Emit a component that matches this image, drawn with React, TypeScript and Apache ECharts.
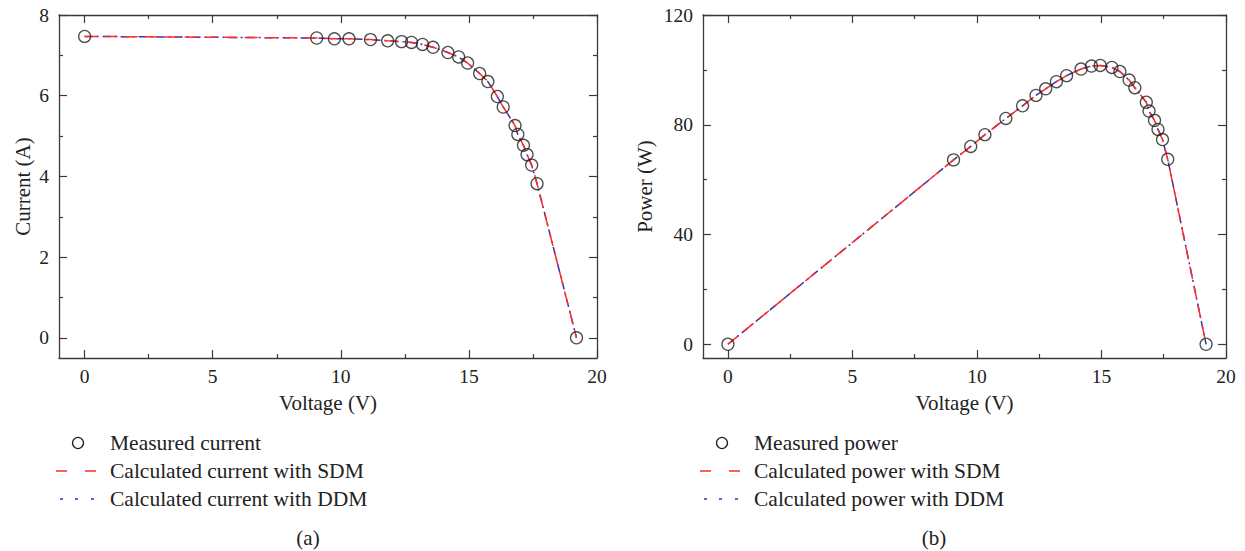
import React, { useEffect, useRef } from "react";
import * as echarts from "echarts";

// ---- Data ----
const voltage = [0, 9.06, 9.75, 10.32, 11.16, 11.83, 12.37, 12.76, 13.19, 13.6, 14.18, 14.6, 14.95, 15.42, 15.74, 16.11, 16.34, 16.8, 16.91, 17.13, 17.27, 17.45, 17.66, 19.2];
const measuredCurrent = [7.47, 7.43, 7.41, 7.41, 7.39, 7.36, 7.34, 7.32, 7.27, 7.2, 7.07, 6.96, 6.81, 6.55, 6.35, 5.98, 5.72, 5.26, 5.04, 4.77, 4.54, 4.28, 3.82, 0];
const measuredPower = [0, 67.2, 72.1, 76.4, 82.3, 86.9, 90.7, 93.1, 95.7, 97.9, 100.3, 101.4, 101.6, 100.9, 99.4, 96.3, 93.5, 88.2, 85.0, 81.6, 78.3, 74.6, 67.4, 0];
// calculated curves coincide with the measurements at the resolution of the picture
const sdmCurrent = [7.47, 7.43, 7.41, 7.41, 7.39, 7.36, 7.34, 7.32, 7.27, 7.2, 7.07, 6.96, 6.81, 6.55, 6.35, 5.98, 5.72, 5.26, 5.04, 4.77, 4.54, 4.28, 3.82, 0];
const ddmCurrent = [7.47, 7.43, 7.41, 7.41, 7.39, 7.36, 7.34, 7.32, 7.27, 7.2, 7.07, 6.96, 6.81, 6.55, 6.35, 5.98, 5.72, 5.26, 5.04, 4.77, 4.54, 4.28, 3.82, 0];
const sdmPower = [0, 67.2, 72.1, 76.4, 82.3, 86.9, 90.7, 93.1, 95.7, 97.9, 100.3, 101.4, 101.6, 100.9, 99.4, 96.3, 93.5, 88.2, 85.0, 81.6, 78.3, 74.6, 67.4, 0];
const ddmPower = [0, 67.2, 72.1, 76.4, 82.3, 86.9, 90.7, 93.1, 95.7, 97.9, 100.3, 101.4, 101.6, 100.9, 99.4, 96.3, 93.5, 88.2, 85.0, 81.6, 78.3, 74.6, 67.4, 0];

const xMajorTicks = [0, 5, 10, 15, 20];
const xMinorTicks = [2.5, 7.5, 12.5, 17.5];
const currentMajorTicks = [0, 2, 4, 6, 8];
const currentMinorTicks = [1, 3, 5, 7];
const powerMajorTicks = [0, 40, 80, 120];
const powerMinorTicks = [20, 60, 100];

const legendA = ["Measured current", "Calculated current with SDM", "Calculated current with DDM"];
const legendB = ["Measured power", "Calculated power with SDM", "Calculated power with DDM"];
const panelLabels = ["(a)", "(b)"];

const FONT = "'Liberation Serif', 'Times New Roman', serif";
const AXIS_COLOR = "#3a3a3a";
const TEXT_COLOR = "#222";
const RED = "#ff2a2a";
const BLUE = "#3333aa";

function makeAxes(
  kind: "x" | "y",
  gridIndex: number,
  min: number,
  max: number,
  major: number[],
  minor: number[],
  name: string,
  nameGap: number
) {
  const positions = kind === "x" ? ["bottom", "top"] : ["left", "right"];
  const axes: any[] = [];
  positions.forEach((p, k) => {
    [major, minor].forEach((vals, m) => {
      const main = k === 0 && m === 0;
      axes.push({
        type: "value",
        gridIndex,
        position: p,
        min,
        max,
        splitLine: { show: false },
        axisLine: { show: m === 0, onZero: false, lineStyle: { color: AXIS_COLOR, width: 1.3 } },
        axisTick: {
          show: true,
          inside: true,
          length: m === 0 ? 8 : 4,
          customValues: vals,
          lineStyle: { color: AXIS_COLOR, width: 1.2 },
        },
        axisLabel: {
          show: main,
          customValues: vals,
          fontFamily: FONT,
          fontSize: 19.5,
          color: TEXT_COLOR,
          margin: kind === "x" ? 8 : 10,
        },
        name: main ? name : "",
        nameLocation: "middle",
        nameGap,
        nameRotate: kind === "y" ? 90 : 0,
        nameTextStyle: { fontFamily: FONT, fontSize: 21, color: TEXT_COLOR },
      });
    });
  });
  return axes;
}

function pairs(xs: number[], ys: number[]) {
  return xs.map((x, i) => [x, ys[i]]);
}

function legendGraphics(x0: number, texts: string[]) {
  const ys = [443, 471, 499];
  const els: any[] = [];
  els.push({ type: "circle", shape: { cx: x0 + 18, cy: ys[0], r: 5.5 }, style: { fill: "none", stroke: TEXT_COLOR, lineWidth: 1.3 } });
  els.push({ type: "line", shape: { x1: x0 - 4, y1: ys[1], x2: x0 + 7, y2: ys[1] }, style: { stroke: RED, lineWidth: 1.5 } });
  els.push({ type: "line", shape: { x1: x0 + 25, y1: ys[1], x2: x0 + 36, y2: ys[1] }, style: { stroke: RED, lineWidth: 1.5 } });
  [0, 15, 31].forEach((dx) => {
    els.push({ type: "line", shape: { x1: x0 + dx, y1: ys[2], x2: x0 + dx + 3, y2: ys[2] }, style: { stroke: BLUE, lineWidth: 1.5 } });
  });
  texts.forEach((t, i) => {
    els.push({
      type: "text",
      x: x0 + 50,
      y: ys[i],
      style: { text: t, fontFamily: FONT, fontSize: 21.5, fill: TEXT_COLOR, textVerticalAlign: "middle", verticalAlign: "middle" },
    });
  });
  return els;
}

export default function App() {
  const ref = useRef<HTMLDivElement>(null);
  useEffect(() => {
    if (!ref.current) return;
    const chart = echarts.init(ref.current, null, { renderer: "svg" });

    const xAxes = [
      ...makeAxes("x", 0, -1, 20, xMajorTicks, xMinorTicks, "Voltage (V)", 34),
      ...makeAxes("x", 1, -1, 20, xMajorTicks, xMinorTicks, "Voltage (V)", 34),
    ];
    const yAxes = [
      ...makeAxes("y", 0, -0.5, 8, currentMajorTicks, currentMinorTicks, "Current (A)", 26),
      ...makeAxes("y", 1, -5, 120, powerMajorTicks, powerMinorTicks, "Power (W)", 48),
    ];

    const lineSeries = (xi: number, ys: number[], color: string, dash: number[], z: number) => ({
      type: "line",
      xAxisIndex: xi,
      yAxisIndex: xi,
      data: pairs(voltage, ys),
      showSymbol: false,
      symbol: "none",
      lineStyle: { color, width: 1.5, type: dash },
      z,
      silent: true,
    });
    const scatterSeries = (xi: number, ys: number[]) => ({
      type: "scatter",
      xAxisIndex: xi,
      yAxisIndex: xi,
      data: pairs(voltage, ys),
      symbol: "circle",
      symbolSize: 12,
      itemStyle: { color: "rgba(0,0,0,0)", borderColor: TEXT_COLOR, borderWidth: 1.3 },
      z: 5,
    });

    chart.setOption({
      animation: false,
      backgroundColor: "#fff",
      grid: [
        { left: 59, top: 15, width: 538, height: 343 },
        { left: 703, top: 15, width: 523, height: 343 },
      ],
      xAxis: xAxes,
      yAxis: yAxes,
      series: [
        lineSeries(0, ddmCurrent, BLUE, [8, 4, 2, 4], 2),
        lineSeries(0, sdmCurrent, RED, [13, 7], 3),
        scatterSeries(0, measuredCurrent),
        lineSeries(4, ddmPower, BLUE, [8, 4, 2, 4], 2),
        lineSeries(4, sdmPower, RED, [13, 7], 3),
        scatterSeries(4, measuredPower),
      ],
      graphic: [
        ...legendGraphics(60, legendA),
        ...legendGraphics(704, legendB),
        {
          type: "text",
          x: 308,
          y: 538,
          style: { text: panelLabels[0], fontFamily: FONT, fontSize: 21, fill: TEXT_COLOR, align: "center", verticalAlign: "middle" },
        },
        {
          type: "text",
          x: 934,
          y: 538,
          style: { text: panelLabels[1], fontFamily: FONT, fontSize: 21, fill: TEXT_COLOR, align: "center", verticalAlign: "middle" },
        },
      ],
    });
    return () => chart.dispose();
  }, []);

  return <div ref={ref} style={{ position: "fixed", left: 0, top: 0, width: 1245, height: 551 }} />;
}
